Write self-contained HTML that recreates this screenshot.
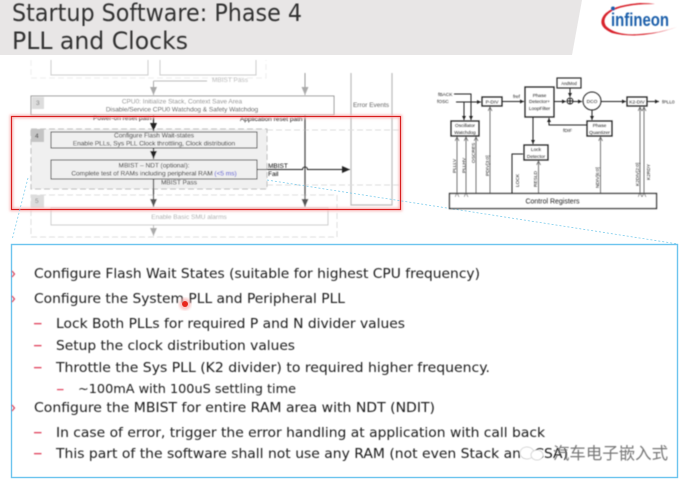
<!DOCTYPE html>
<html><head><meta charset="utf-8"><style>html,body{margin:0;padding:0;background:#fff}svg{display:block}</style></head>
<body>
<svg xmlns="http://www.w3.org/2000/svg" width="691" height="484" viewBox="0 0 691 484" font-family="'Liberation Sans','Noto Sans CJK SC',sans-serif">
<defs>
<filter id="b" x="-5%" y="-5%" width="110%" height="110%"><feGaussianBlur stdDeviation="0.42"/></filter>
<filter id="h" x="-5%" y="-5%" width="110%" height="110%"><feGaussianBlur stdDeviation="1.2"/></filter>
<marker id="a" markerUnits="userSpaceOnUse" markerWidth="9" markerHeight="8" refX="8" refY="3.500" orient="auto"><path d="M0 0L8 3.500L0 7Z" fill="#222"/></marker>
<marker id="ad" markerUnits="userSpaceOnUse" markerWidth="9" markerHeight="8" refX="8" refY="3.500" orient="auto"><path d="M0 0L8 3.500L0 7Z" fill="#555"/></marker>
<marker id="ag" markerUnits="userSpaceOnUse" markerWidth="9" markerHeight="8" refX="8" refY="3.500" orient="auto"><path d="M0 0L8 3.500L0 7Z" fill="#aaa"/></marker>
<marker id="as" markerUnits="userSpaceOnUse" markerWidth="5" markerHeight="5" refX="4" refY="2" orient="auto"><path d="M0 0L4 2L0 4Z" fill="#222"/></marker>
<marker id="ao" markerUnits="userSpaceOnUse" markerWidth="5" markerHeight="5" refX="4" refY="2" orient="auto"><path d="M0 0L4 2L0 4" fill="none" stroke="#555" stroke-width=".7"/></marker>
</defs>
<rect width="691" height="484" fill="#fff"/>
<polygon points="0,0 582,0 572,55 0,55" fill="#e8e6e6"/>
<g font-family="'DejaVu Sans',sans-serif" font-size="24" fill="#333" filter="url(#b)">
<text x="12" y="21" textLength="290" lengthAdjust="spacingAndGlyphs">Startup Software: Phase 4</text>
<text x="12" y="49" textLength="176" lengthAdjust="spacingAndGlyphs">PLL and Clocks</text>
</g>
<g filter="url(#b)">
<path d="M677 27Q640 40 612 33Q596 26 604 15Q612 5 640 3Q650 3 655 4Q625 4 612 11Q601 18 606 26Q616 36 640 34Q660 33 677 27Z" fill="#d8202c"/>
<circle cx="613" cy="8.500" r="2" fill="#1b5faa"/>
<text x="611" y="26" font-size="18" font-weight="bold" fill="#1b5faa" textLength="58" lengthAdjust="spacingAndGlyphs" font-family="'Liberation Sans',sans-serif">infineon</text>
</g>
<g filter="url(#b)">
<path d="M31 60V78H266V60" fill="none" stroke="#eee" stroke-dasharray="6 3"/>
<path d="M51 60V75H148V60M160 60V75H256V60" fill="none" stroke="#ccc"/>
<text x="212" y="82" font-size="6.500" fill="#bbb">MBIST Pass</text>
<path d="M153.500 81V95" stroke="#aaa" fill="none" marker-end="url(#ag)"/>
<path d="M153.500 81H207" stroke="#bbb" fill="none"/>
<path d="M305 73V95" stroke="#999" marker-end="url(#ag)"/>
<path d="M351 73V205H392V73" fill="none" stroke="#bbb" stroke-width="1.200"/>
<text x="371" y="107" font-size="6.500" fill="#666" text-anchor="middle">Error Events</text>
<rect x="31" y="96" width="303" height="19" fill="#fff" stroke="#999"/>
<rect x="32" y="97" width="12" height="12" fill="#ddd"/>
<text x="36" y="105" font-size="6.500" fill="#777">3</text>
<text x="182" y="103.500" font-size="6.500" fill="#888" text-anchor="middle">CPU0: Initialize Stack, Context Save Area</text>
<text x="182" y="111.500" font-size="6.500" fill="#444" text-anchor="middle">Disable/Service CPU0 Watchdog &amp; Safety Watchdog</text>
<path d="M267 130H400M267 185H400" stroke="#ddd" stroke-dasharray="6 3"/>
<rect x="31" y="195" width="306" height="42" fill="#fff" stroke="#ddd" stroke-dasharray="6 3"/>
<rect x="31" y="195" width="13" height="13" fill="#ddd"/>
<text x="35" y="203" font-size="6.500" fill="#888">5</text>
<rect x="51" y="208" width="277" height="17" fill="#fff" stroke="#ccc"/>
<text x="189" y="219" font-size="6.500" fill="#aaa" text-anchor="middle">Enable Basic SMU alarms</text>
<path d="M153.500 225V236" stroke="#bbb" marker-end="url(#ag)"/>
<rect x="31" y="129" width="236" height="60" fill="#f0f0f0" stroke="#bbb" stroke-dasharray="6 3"/>
<rect x="31" y="129" width="13" height="13" fill="#c4c4c4"/>
<text x="35" y="138" font-size="6.500" fill="#333">4</text>
<rect x="51" y="132" width="206" height="16" fill="#f0f0f0" stroke="#444"/>
<text x="154" y="137.500" font-size="6.500" fill="#111" text-anchor="middle">Configure Flash Wait-states</text>
<text x="154" y="145.500" font-size="6.500" fill="#111" text-anchor="middle">Enable PLLs, Sys PLL Clock throttling, Clock distribution</text>
<rect x="51" y="160" width="206" height="19" fill="#f0f0f0" stroke="#444"/>
<text x="154" y="167.500" font-size="6.500" fill="#111" text-anchor="middle">MBIST – NDT (optional):</text>
<text x="154" y="175.500" font-size="6.500" fill="#111" text-anchor="middle">Complete test of RAMs including peripheral RAM <tspan fill="#3a3ad0">(&lt;5 ms)</tspan></text>
<text x="93" y="120" font-size="6.500" fill="#111">Power-on reset path</text>
<text x="240" y="121" font-size="6.500" fill="#111">Application reset path</text>
<text x="268" y="168" font-size="6.500" fill="#111">MBIST</text>
<text x="268" y="176" font-size="6.500" fill="#111">Fail</text>
<text x="161" y="184.500" font-size="6.500" fill="#111">MBIST Pass</text>
<path d="M153.500 115V131" stroke="#222" stroke-width="1.200" marker-end="url(#a)"/>
<path d="M153.500 148V159" stroke="#222" stroke-width="1.200" marker-end="url(#a)"/>
<path d="M153.500 179V207" stroke="#444" stroke-width="1.200" marker-end="url(#ad)"/>
<path d="M305 115V207" stroke="#444" stroke-width="1.200" marker-end="url(#ad)"/>
<path d="M257 169.500H302.500A2.500 2.500 0 0 1 307.500 169.500H350" fill="none" stroke="#222" stroke-width="1.100" marker-end="url(#a)"/>
</g>
<rect x="11.500" y="116.500" width="389" height="93" fill="none" stroke="#f9b9b9" stroke-width="3.500" filter="url(#h)"/>
<rect x="11.500" y="116.500" width="389" height="93" fill="none" stroke="#d81e1e" stroke-width="1.100"/>
<g stroke="#7fcdec" stroke-width=".8" stroke-dasharray="2 2" fill="none">
<path d="M28 178L12 240"/><path d="M267 180L678 244"/>
</g>
<g filter="url(#b)" fill="none" stroke="#222">
<rect x="449.500" y="193.500" width="207" height="15" fill="#fff" stroke-width="1.300"/>
<rect x="482" y="97" width="20" height="9" stroke-width="1.300"/>
<rect x="525" y="87" width="29" height="30" stroke-width="1.300"/>
<rect x="557" y="78" width="24" height="10" stroke-width="1.100"/>
<circle cx="570" cy="101" r="3"/>
<path d="M567 101H573M570 98V104"/>
<circle cx="592" cy="101" r="9"/>
<rect x="627" y="97" width="20" height="9" stroke-width="1.300"/>
<rect x="587" y="121" width="25" height="15" stroke-width="1.300"/>
<rect x="451" y="121" width="28" height="15" stroke-width="1.300"/>
<rect x="524" y="145" width="24" height="15" stroke-width="1.300"/>
<path d="M454 94H471V120" marker-end="url(#as)"/>
<path d="M456 102H481" marker-end="url(#as)"/>
<path d="M464 102V120" marker-end="url(#as)"/>
<path d="M502 101.500H524" marker-end="url(#as)"/>
<path d="M554 101.500H566" marker-end="url(#as)"/>
<path d="M570 88V97" marker-end="url(#as)"/>
<path d="M573 101.500H582" marker-end="url(#as)"/>
<path d="M601 101.500H626" marker-end="url(#as)"/>
<path d="M647 101.500H659" marker-end="url(#as)"/>
<path d="M592 110V120" marker-end="url(#as)"/>
<path d="M587 125H549V118" marker-end="url(#as)"/>
<path d="M533 117V144" marker-end="url(#as)"/>
<path d="M512 193V154H523" stroke-width="1"/>
<g stroke="#555" stroke-width=".8">
<path d="M457 193V137" marker-start="url(#ao)" marker-end="url(#ao)"/>
<path d="M466 193V137" marker-start="url(#ao)" marker-end="url(#ao)"/>
<path d="M476 193V137" marker-end="url(#ao)"/>
<path d="M490 193V107" marker-end="url(#ao)"/>
<path d="M538.500 193V161" marker-end="url(#ao)"/>
<path d="M600.500 193V137" marker-end="url(#ao)"/>
<path d="M640 193V107" marker-start="url(#ao)" marker-end="url(#ao)"/>
<path d="M644 193V107" marker-start="url(#ao)" marker-end="url(#ao)"/>
</g>
</g>
<g filter="url(#b)" font-size="4.800" fill="#222" font-family="'Liberation Sans',sans-serif">
<text x="438" y="96">fBACK</text>
<text x="437" y="103">fOSC</text>
<text x="492" y="103.500" text-anchor="middle">P-DIV</text>
<text x="513" y="98">fref</text>
<text x="539.500" y="97" text-anchor="middle">Phase</text>
<text x="539.500" y="103" text-anchor="middle">Detector+</text>
<text x="539.500" y="110" text-anchor="middle">LoopFilter</text>
<text x="569" y="85" text-anchor="middle" font-size="4.200">AndMod</text>
<text x="592" y="103" text-anchor="middle">DCO</text>
<text x="637" y="103.500" text-anchor="middle">K2-DIV</text>
<text x="662" y="103.500">fPLL0</text>
<text x="599.500" y="127" text-anchor="middle">Phase</text>
<text x="599.500" y="134" text-anchor="middle">Quantizer</text>
<text x="465" y="127" text-anchor="middle">Oscillator</text>
<text x="465" y="134" text-anchor="middle">Watchdog</text>
<text x="536" y="151" text-anchor="middle">Lock</text>
<text x="536" y="158" text-anchor="middle">Detector</text>
<text x="563" y="132">fDIF</text>
<text transform="translate(456 173) rotate(-90)">PLLLV</text>
<text transform="translate(465.500 173) rotate(-90)">PLLHV</text>
<text transform="translate(475 163) rotate(-90)">OSCRES</text>
<text transform="translate(489 176) rotate(-90)">PDIV[3:0]</text>
<text transform="translate(519 187) rotate(-90)">LOCK</text>
<text transform="translate(537 187) rotate(-90)">RESLD</text>
<text transform="translate(599 188) rotate(-90)">NDIV[6:0]</text>
<text transform="translate(639 186) rotate(-90)">K2DIV[2:0]</text>
<text transform="translate(650 180) rotate(-90)">K2RDY</text>
<text x="552.500" y="203.500" font-size="7" text-anchor="middle">Control Registers</text>
</g>
<rect x="11.500" y="244.500" width="666" height="233" fill="#fff" stroke="#6cc4ee" stroke-width="1.400"/>
<g font-family="'DejaVu Sans',sans-serif" font-size="13.500" fill="#1e1e1e" filter="url(#b)">
<text x="34" y="278" textLength="446" lengthAdjust="spacingAndGlyphs">Configure Flash Wait States (suitable for highest CPU frequency)</text>
<text x="34" y="303" textLength="311" lengthAdjust="spacingAndGlyphs">Configure the System PLL and Peripheral PLL</text>
<text x="56" y="328" textLength="349" lengthAdjust="spacingAndGlyphs">Lock Both PLLs for required P and N divider values</text>
<text x="56" y="350" textLength="239" lengthAdjust="spacingAndGlyphs">Setup the clock distribution values</text>
<text x="56" y="372" textLength="434" lengthAdjust="spacingAndGlyphs">Throttle the Sys PLL (K2 divider) to required higher frequency.</text>
<text x="78" y="393" font-size="12.500" textLength="218" lengthAdjust="spacingAndGlyphs">~100mA with 100uS settling time</text>
<text x="34" y="412" textLength="401" lengthAdjust="spacingAndGlyphs">Configure the MBIST for entire RAM area with NDT (NDIT)</text>
<text x="56" y="437" textLength="489" lengthAdjust="spacingAndGlyphs">In case of error, trigger the error handling at application with call back</text>
<text x="56" y="458" textLength="512" lengthAdjust="spacingAndGlyphs">This part of the software shall not use any RAM (not even Stack and CSA)</text>
</g>
<g fill="#e0405a" filter="url(#b)">
<path d="M12 271L14.500 274L12 277" fill="none" stroke="#d8405a" stroke-width="1.200"/>
<path d="M12 296L14.500 299L12 302" fill="none" stroke="#d8405a" stroke-width="1.200"/>
<path d="M12 405L14.500 408L12 411" fill="none" stroke="#d8405a" stroke-width="1.200"/>
<rect x="34" y="323" width="7.500" height="1.300"/><rect x="34" y="345" width="7.500" height="1.300"/><rect x="34" y="367" width="7.500" height="1.300"/>
<rect x="57" y="389" width="6.500" height="1.200"/><rect x="34" y="432" width="7.500" height="1.300"/><rect x="34" y="453" width="7.500" height="1.300"/>
</g>
<circle cx="185" cy="304" r="6" fill="#f6b0b0" opacity=".7" filter="url(#h)"/>
<circle cx="185" cy="304" r="3" fill="#e8261c"/>
<g filter="url(#b)">
<ellipse cx="527" cy="453" rx="7" ry="6" fill="#fff" stroke="#ccc" stroke-width=".8"/>
<ellipse cx="537" cy="455" rx="6" ry="5" fill="#fff" stroke="#ccc" stroke-width=".8"/>
<text x="553" y="459" font-size="16.500" fill="#777" textLength="115" lengthAdjust="spacingAndGlyphs">汽车电子嵌入式</text>
</g>
</svg>
</body></html>
